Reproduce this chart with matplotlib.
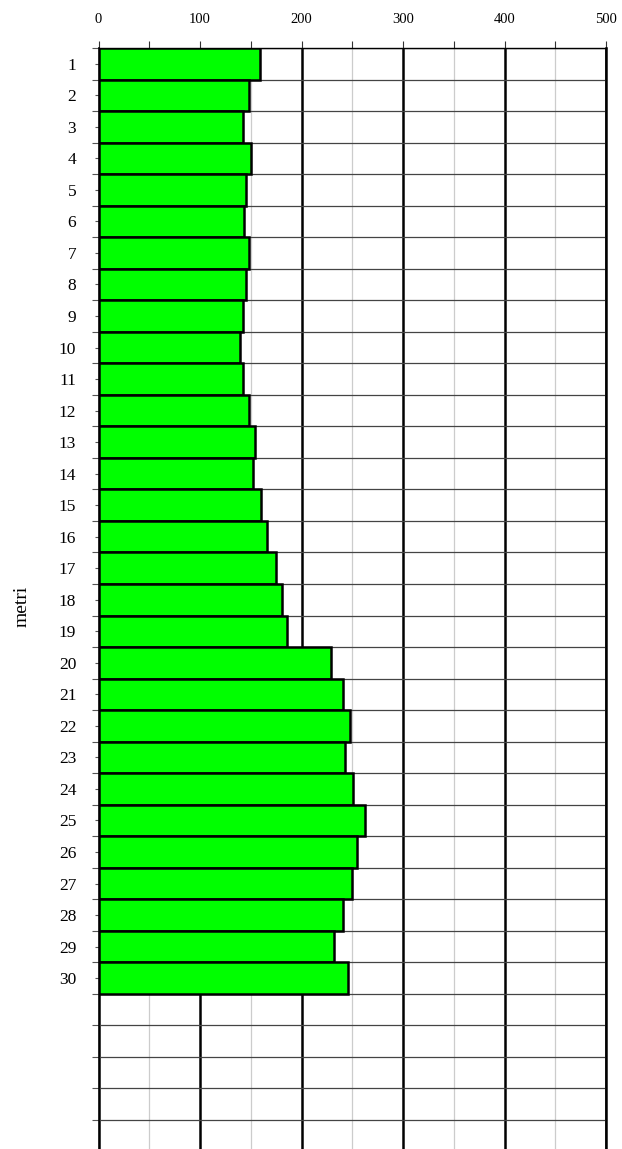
import numpy as np
import matplotlib
matplotlib.use("Agg")
import matplotlib.pyplot as plt
from matplotlib.ticker import MultipleLocator, FixedLocator

# profondità (m) e valori misurati
metri = list(range(1, 31))
valori = [159, 148, 142, 150, 145, 143, 148, 145, 142, 139,
          142, 148, 154, 152, 160, 166, 175, 181, 186, 229,
          241, 248, 243, 251, 263, 255, 250, 241, 232, 246]
x_ticks = [0, 100, 200, 300, 400, 500]

plt.rcParams['font.family'] = ['Liberation Serif', 'DejaVu Serif']

fig = plt.figure(figsize=(6.22, 11.49), dpi=100)
ax = fig.add_axes([98.5 / 622, 0.0, (606 - 98.5) / 622, 1 - 48 / 1149])

ax.barh(metri, valori, height=1.0, color='#00ff00', edgecolor='black',
        linewidth=1.8, zorder=3)

ax.set_xlim(0, 500)
ax.set_ylim(0.5 + 1101 / 31.53, 0.5)

# asse x in alto
ax.xaxis.tick_top()
ax.set_xticks(x_ticks)
ax.xaxis.set_minor_locator(MultipleLocator(50))
ax.tick_params(axis='x', which='both', length=5, width=0.8, color='#333333',
               pad=11, labelsize=10.5, top=True, bottom=False)

# asse y: etichette al centro, righe ai bordi
ax.set_yticks(metri)
ax.yaxis.set_minor_locator(FixedLocator(np.arange(0.5, 36, 1.0)))
ax.tick_params(axis='y', which='major', length=3, width=0.8, color='#555555',
               pad=13, labelsize=12.5)
ax.tick_params(axis='y', which='minor', length=5, width=0.8, color='#555555')

ax.grid(axis='x', which='major', color='black', linewidth=1.8, zorder=1)
ax.grid(axis='x', which='minor', color='#cccccc', linewidth=0.9, zorder=1)
ax.grid(axis='y', which='minor', color='#444444', linewidth=0.9, zorder=1)
ax.set_axisbelow(True)

ax.spines['bottom'].set_visible(False)
ax.spines['left'].set_linewidth(1.2)
ax.spines['top'].set_linewidth(1.0)
ax.spines['right'].set_linewidth(1.8)

fig.text(22 / 622, 1 - 606 / 1149, 'metri', rotation=90, fontsize=14,
         ha='center', va='center')

fig.savefig('out.png', dpi=100)
